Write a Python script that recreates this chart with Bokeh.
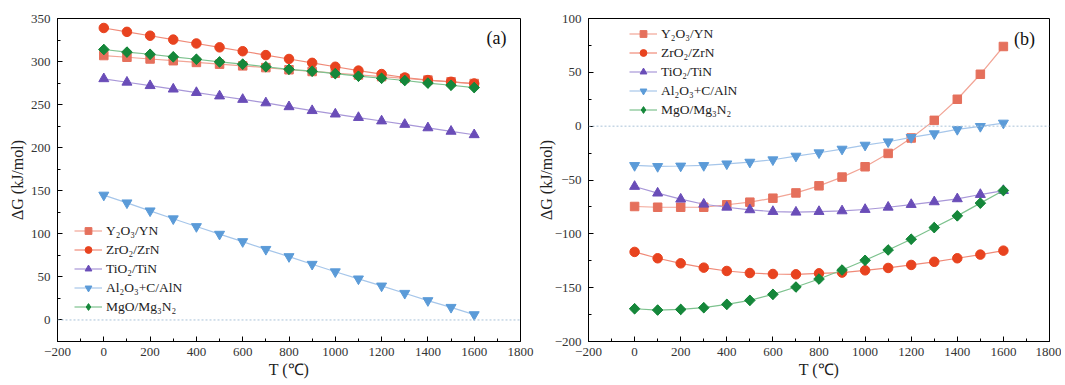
import math
from bokeh.plotting import figure
from bokeh.layouts import row
from bokeh.models import Span, Label, Range1d, FixedTicker
from bokeh.embed import file_html
from bokeh.resources import INLINE

T = [0, 100, 200, 300, 400, 500, 600, 700, 800, 900, 1000, 1100, 1200, 1300, 1400, 1500, 1600]
x_ticks = [-200, 0, 200, 400, 600, 800, 1000, 1200, 1400, 1600, 1800]

labels = ["Y₂O₃/YN", "ZrO₂/ZrN", "TiO₂/TiN", "Al₂O₃+C/AlN", "MgO/Mg₃N₂"]

# panel (a)
a_y2o3 = [307, 305, 303, 301, 299, 297, 295, 293, 290.5, 288.5, 286.5, 284.5, 282.5, 280.5, 278.5, 276.5, 274.5]
a_zro2 = [339, 334.5, 330, 325.5, 321, 316.5, 312, 307.5, 303, 298.5, 294, 289.5, 285.5, 281.5, 278.5, 276.5, 274.5]
a_tio2 = [280, 276, 272, 268, 264, 260, 256, 252, 247.5, 243, 239, 235, 231, 227, 223, 219, 215]
a_al2o3 = [145, 136, 126.7, 117.5, 108.5, 99.6, 91, 82, 73.6, 64.7, 56, 47.7, 39.5, 31, 22.5, 14.7, 6.2]
a_mgo = [314, 311, 308.5, 305.5, 302.7, 299.6, 297, 294, 291, 288.8, 286, 283, 280.6, 278, 275, 272.5, 269.8]
a_yticks = [0, 50, 100, 150, 200, 250, 300, 350]

# panel (b)
b_y2o3 = [-74.6, -75.3, -75.3, -75.3, -73, -70.6, -66.9, -62, -55.4, -47.3, -37.7, -25.3, -11, 5.4, 25, 48.2, 74]
b_zro2 = [-116.8, -122.7, -127.4, -131.4, -134.5, -136.4, -137.3, -137.6, -136.7, -136, -133.9, -131.7, -128.9, -126, -122.7, -119.3, -115.6]
b_tio2 = [-56, -62.2, -67.8, -72.5, -75.3, -77.7, -79.3, -79.9, -79.3, -78.7, -77.4, -75.3, -72.8, -70.3, -67.5, -63.5, -59.8]
b_al2o3 = [-36.5, -37.4, -37, -36.5, -35, -33.4, -31.2, -27.8, -24.7, -21.3, -17.6, -14.5, -10.4, -7, -3, -0.2, 2.9]
b_mgo = [-169.6, -170.8, -170.2, -168.6, -165.5, -161.8, -156.2, -149.4, -142, -133.6, -124.6, -115, -105, -94.2, -83.3, -71.5, -59.8]
b_yticks = [-200, -150, -100, -50, 0, 50, 100]

marker_colors = ["#E5705C", "#E8431F", "#6A4DB8", "#5B9BD8", "#15873A"]
line_colors = ["#F2A596", "#F08A78", "#A897D8", "#A6C6EA", "#7DC28E"]
markers = ["square", "circle", "triangle", "inverted_triangle", "square"]
angles = [0, 0, 0, 0, math.pi / 4]
sizes = [8.5, 9.5, 10, 10, 7.5]

FONT = "Liberation Serif"


def make_panel(series, yrange, yticks, minor_step, width, mbl, mbr, tag, tag_xy, leg_loc, ylab_standoff):
    p = figure(width=width, height=385, output_backend="svg", toolbar_location=None,
               x_range=Range1d(-200, 1800), y_range=Range1d(*yrange),
               min_border_left=mbl, min_border_right=mbr, min_border_top=18, min_border_bottom=44)
    p.xgrid.visible = False
    p.ygrid.visible = False
    p.outline_line_color = "black"
    p.outline_line_width = 1
    p.background_fill_color = "white"
    p.border_fill_color = "white"

    p.add_layout(Span(location=0, dimension="width", line_color="#A9C2D8",
                      line_dash="2 2", line_width=1))

    for ys, lab, mc, lc, mk, sz, ang in zip(series, labels, marker_colors, line_colors, markers, sizes, angles):
        p.line(T, ys, line_color=lc, line_width=1.2, legend_label=lab)
        if ang:
            # diamond drawn underneath (hidden) serves as the legend key;
            # the rotated square on top is what shows in the plot
            p.scatter(T, ys, marker="diamond", size=10, fill_color=mc, line_color=mc, legend_label=lab)
            p.scatter(T, ys, marker=mk, size=sz, angle=ang, fill_color=mc, line_color=mc)
        else:
            p.scatter(T, ys, marker=mk, size=sz, fill_color=mc, line_color=mc, legend_label=lab)

    minor_x = [v for v in range(-200, 1801, 100) if v % 200 != 0]
    p.xaxis.ticker = FixedTicker(ticks=x_ticks, minor_ticks=minor_x)
    lo, hi = yrange
    minor_y = []
    v = lo
    while v <= hi:
        if v not in yticks:
            minor_y.append(v)
        v += minor_step
    p.yaxis.ticker = FixedTicker(ticks=yticks, minor_ticks=minor_y)

    for ax in (p.xaxis[0], p.yaxis[0]):
        ax.axis_line_color = "black"
        ax.major_tick_in = 5
        ax.major_tick_out = 0
        ax.minor_tick_in = 3
        ax.minor_tick_out = 0
        ax.major_tick_line_color = "black"
        ax.minor_tick_line_color = "black"
        ax.major_label_text_font = FONT
        ax.major_label_text_font_size = "13px"
        ax.major_label_text_color = "#333333"
        ax.axis_label_text_font = FONT
        ax.axis_label_text_font_size = "16px"
        ax.axis_label_text_font_style = "normal"
        ax.axis_label_text_color = "#222222"
    p.xaxis.major_label_standoff = 6
    p.yaxis.major_label_standoff = 7
    p.xaxis.axis_label = "T (℃)"
    p.yaxis.axis_label = "ΔG (kJ/mol)"
    p.xaxis.axis_label_standoff = 2
    p.yaxis.axis_label_standoff = ylab_standoff

    leg = p.legend[0]
    leg.location = leg_loc
    leg.border_line_alpha = 0
    leg.background_fill_alpha = 0
    leg.padding = 0
    leg.margin = 0
    leg.spacing = 2
    leg.glyph_width = 28
    leg.glyph_height = 17
    leg.label_height = 17
    leg.label_standoff = 4
    leg.label_text_font = FONT
    leg.label_text_font_size = "13.5px"
    leg.label_text_color = "#222222"

    p.add_layout(Label(x=tag_xy[0], y=tag_xy[1], text=tag, text_font=FONT, text_font_size="18px",
                       text_align="center", text_baseline="middle", text_color="#111111"))
    return p


pa = make_panel([a_y2o3, a_zro2, a_tio2, a_al2o3, a_mgo], (-25, 350), a_yticks, 25,
                534, 57, 14, "(a)", (1696, 327), (17, 26), 2)
pb = make_panel([b_y2o3, b_zro2, b_tio2, b_al2o3, b_mgo], (-200, 100), b_yticks, 25,
                527, 52, 12, "(b)", (1692, 81.4), (41, 223), -3)

layout = row(pa, pb)
open("out.html", "w").write(file_html(layout, INLINE))
